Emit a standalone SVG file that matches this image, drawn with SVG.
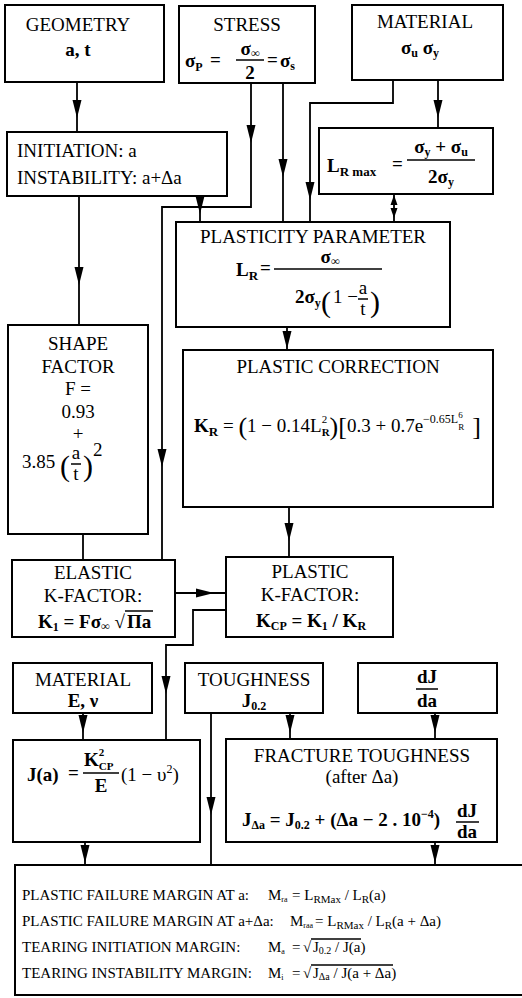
<svg xmlns="http://www.w3.org/2000/svg" xmlns:xlink="http://www.w3.org/1999/xlink" width="522" height="998" viewBox="0 0 522 998">
<style>
  .box { fill: #fff; stroke: #000; stroke-width: 2; }
  .ln { fill: none; stroke: #000; stroke-width: 1.8; }
  .bar { stroke: #000; stroke-width: 1.5; }
  .ah { fill: #000; stroke: none; }
  text { font-family: "Liberation Serif", "Times New Roman", serif; font-size: 19px; fill: #000; }
  .c { text-anchor: middle; }
  .b { font-weight: bold; }
  .s { font-size: 15px; }
  .sub { font-size: 12px; }
  .big { font-size: 30px; }
</style>
<defs>
  <path id="ah" d="M0,0 L-4.5,-18 L4.5,-18 Z"/>
  <path id="ahs" d="M0,0 L-3.5,-10 L3.5,-10 Z"/>
</defs>
<rect width="522" height="998" fill="#fff"/>

<g id="connectors">
  <g class="ln">
    <path d="M77,82 V132"/>
    <path d="M251,83 V207 H162 V560"/>
    <path d="M283,83 V222"/>
    <path d="M393,80 V103 H310 V222"/>
    <path d="M438,80 V128"/>
    <path d="M394,194 V222"/>
    <path d="M200,196 V222"/>
    <path d="M79,196 V325"/>
    <path d="M287,327 V350"/>
    <path d="M289,507 V557"/>
    <path d="M83,534 V560"/>
    <path d="M175,593 H226"/>
    <path d="M226,610 H193 V645 H166 V740"/>
    <path d="M83,713 V740"/>
    <path d="M290,713 V739"/>
    <path d="M435,713 V739"/>
    <path d="M211,713 V865"/>
    <path d="M85,842 V865"/>
    <path d="M435,842 V865"/>
  </g>
  <g class="ah">
    <use xlink:href="#ah" transform="translate(77,118)"/>
    <use xlink:href="#ah" transform="translate(251,143)"/>
    <use xlink:href="#ah" transform="translate(162,467)"/>
    <use xlink:href="#ah" transform="translate(283,177)"/>
    <use xlink:href="#ah" transform="translate(310,200)"/>
    <use xlink:href="#ah" transform="translate(438,118)"/>
    <use xlink:href="#ahs" transform="translate(394,195) rotate(180)"/>
    <use xlink:href="#ahs" transform="translate(394,218)"/>
    <use xlink:href="#ah" transform="translate(200,214)"/>
    <use xlink:href="#ah" transform="translate(79,285)"/>
    <use xlink:href="#ah" transform="translate(287,349)"/>
    <use xlink:href="#ah" transform="translate(289,541)"/>
    <use xlink:href="#ah" transform="translate(214,593) rotate(-90)"/>
    <use xlink:href="#ah" transform="translate(166,694)"/>
    <use xlink:href="#ah" transform="translate(83,733)"/>
    <use xlink:href="#ah" transform="translate(290,733)"/>
    <use xlink:href="#ah" transform="translate(435,733)"/>
    <use xlink:href="#ah" transform="translate(211,815)"/>
    <use xlink:href="#ah" transform="translate(85,863)"/>
    <use xlink:href="#ah" transform="translate(435,863)"/>
  </g>
</g>

<g id="geometry">
  <rect class="box" x="5" y="5" width="159" height="77"/>
  <text x="78" y="31" class="c">GEOMETRY</text>
  <text x="78" y="56" class="c b" font-size="17">a, t</text>
</g>

<g id="stress">
  <rect class="box" x="179" y="6" width="136" height="77"/>
  <text x="247" y="31" class="c">STRESS</text>
  <text x="185" y="67" class="b">σ<tspan class="sub" dy="4">P</tspan></text>
  <text x="210" y="66" class="b">=</text>
  <text x="250" y="55" class="c b">σ<tspan class="sub" dy="2">∞</tspan></text>
  <line class="bar" x1="236" y1="60" x2="264" y2="60"/>
  <text x="250" y="79" class="c b">2</text>
  <text x="267" y="66" class="b">=</text>
  <text x="280" y="67" class="b">σ<tspan class="sub" dy="3">s</tspan></text>
</g>

<g id="material">
  <rect class="box" x="352" y="5" width="151" height="75"/>
  <text x="425" y="28" class="c">MATERIAL</text>
  <text x="420" y="54" class="c b">σ<tspan class="sub" dy="3">u</tspan><tspan dy="-3">  σ</tspan><tspan class="sub" dy="3">y</tspan></text>
</g>

<g id="initiation">
  <rect class="box" x="7" y="132" width="220" height="64"/>
  <text x="17" y="157">INITIATION: a</text>
  <text x="17" y="184">INSTABILITY: a+Δa</text>
</g>

<g id="lrmax">
  <rect class="box" x="319" y="128" width="174" height="66"/>
  <text x="327" y="172" class="b">L<tspan font-size="13" dy="4">R max</tspan></text>
  <text x="392" y="170" class="b">=</text>
  <text x="441" y="153" class="c b">σ<tspan class="sub" dy="3">y</tspan><tspan dy="-3"> + σ</tspan><tspan class="sub" dy="3">u</tspan></text>
  <line class="bar" x1="407" y1="160" x2="475" y2="160"/>
  <text x="441" y="183" class="c b">2σ<tspan class="sub" dy="3">y</tspan></text>
</g>

<g id="plasticity">
  <rect class="box" x="176" y="222" width="274" height="105"/>
  <text x="313" y="243" class="c">PLASTICITY PARAMETER</text>
  <text x="236" y="276" class="b">L<tspan font-size="13" dy="4">R</tspan></text>
  <text x="260" y="274" class="b">=</text>
  <text x="330" y="263" class="c b">σ<tspan class="sub" dy="2">∞</tspan></text>
  <line class="bar" x1="274" y1="269" x2="382" y2="269"/>
  <text x="295" y="303" class="b">2σ<tspan class="sub" dy="4">y</tspan></text>
  <text x="321" y="312" class="big">(</text>
  <text x="333" y="303">1 −</text>
  <text x="363" y="294" class="c" font-size="15">a</text>
  <line class="bar" x1="358" y1="299" x2="368" y2="299" stroke-width="1"/>
  <text x="363" y="315" class="c" font-size="15">t</text>
  <text x="370" y="312" class="big">)</text>
</g>

<g id="plastic-correction">
  <rect class="box" x="183" y="350" width="310" height="157"/>
  <text x="338" y="373" class="c">PLASTIC CORRECTION</text>
  <text x="194" y="432"><tspan font-weight="bold">K</tspan><tspan font-weight="bold" font-size="13" dy="4">R</tspan><tspan dy="-4"> = </tspan><tspan font-size="26" dy="3">(</tspan><tspan dy="-3">1 − 0.14L</tspan><tspan font-size="11" dy="-9">2</tspan><tspan font-size="11" font-weight="bold" dx="-5.5" dy="13">R</tspan><tspan font-size="26" dy="-1">)</tspan><tspan font-size="26">[</tspan><tspan dy="-3">0.3 + 0.7e</tspan><tspan font-size="12" dy="-9">−0.65L</tspan><tspan font-size="9" dy="-5">6</tspan><tspan font-size="9" dx="-4.5" dy="12">R</tspan><tspan font-size="26" dx="8" dy="5">]</tspan></text>
</g>

<g id="shape-factor">
  <rect class="box" x="8" y="325" width="140" height="209"/>
  <text x="78" y="350" class="c">SHAPE</text>
  <text x="78" y="373" class="c">FACTOR</text>
  <text x="78" y="395" class="c">F =</text>
  <text x="78" y="418" class="c">0.93</text>
  <text x="78" y="440" class="c">+</text>
  <text x="22" y="468">3.85</text>
  <text x="60" y="476" class="big">(</text>
  <text x="76" y="459" class="c" font-size="15">a</text>
  <line class="bar" x1="71" y1="464" x2="81" y2="464" stroke-width="1"/>
  <text x="76" y="480" class="c" font-size="15">t</text>
  <text x="83" y="476" class="big">)</text>
  <text x="93" y="456" font-size="15">2</text>
</g>

<g id="elastic-k">
  <rect class="box" x="12" y="560" width="163" height="77"/>
  <text x="93" y="579" class="c">ELASTIC</text>
  <text x="93" y="602" class="c">K-FACTOR:</text>
  <text x="38" y="628" class="b">K<tspan class="sub" dy="3">1</tspan><tspan dy="-3"> = Fσ</tspan><tspan class="sub" dy="2">∞</tspan><tspan dy="-2"> √</tspan></text>
  <text x="127" y="628" class="b">Πa</text>
  <line class="bar" x1="125" y1="611" x2="153" y2="611"/>
</g>

<g id="plastic-k">
  <rect class="box" x="226" y="557" width="167" height="80"/>
  <text x="310" y="578" class="c">PLASTIC</text>
  <text x="310" y="601" class="c">K-FACTOR:</text>
  <text x="311" y="627" class="c b">K<tspan class="sub" dy="3">CP</tspan><tspan dy="-3"> = K</tspan><tspan class="sub" dy="3">1</tspan><tspan dy="-3"> / K</tspan><tspan class="sub" dy="3">R</tspan></text>
</g>

<g id="material-e">
  <rect class="box" x="13" y="663" width="139" height="50"/>
  <text x="83" y="686" class="c">MATERIAL</text>
  <text x="83" y="707" class="c b" font-size="17">E, ν</text>
</g>

<g id="toughness">
  <rect class="box" x="185" y="663" width="138" height="50"/>
  <text x="254" y="686" class="c">TOUGHNESS</text>
  <text x="254" y="707" class="c b">J<tspan class="sub" dy="3">0.2</tspan></text>
</g>

<g id="djda">
  <rect class="box" x="358" y="663" width="139" height="50"/>
  <text x="427" y="683" class="c b" font-size="17">dJ</text>
  <line class="bar" x1="416" y1="689" x2="438" y2="689"/>
  <text x="427" y="707" class="c b" font-size="17">da</text>
</g>

<g id="j-a">
  <rect class="box" x="13" y="740" width="187" height="102"/>
  <text x="27" y="781" class="b">J(a)</text>
  <text x="68" y="779" class="b">=</text>
  <text x="84" y="766" class="b">K<tspan font-size="11" dy="-10">2</tspan><tspan font-size="11" dx="-5.5" dy="14">CP</tspan></text>
  <line class="bar" x1="83" y1="773" x2="119" y2="773"/>
  <text x="101" y="792" class="c b">E</text>
  <text x="121" y="781">(1 − υ<tspan class="sub" dy="-8">2</tspan><tspan dy="8">)</tspan></text>
</g>

<g id="fracture-toughness">
  <rect class="box" x="226" y="739" width="271" height="103"/>
  <text x="362" y="762" class="c">FRACTURE TOUGHNESS</text>
  <text x="362" y="783" class="c">(after Δa)</text>
  <text x="242" y="826" class="b">J<tspan class="sub" dy="3">Δa</tspan><tspan dy="-3"> = J</tspan><tspan class="sub" dy="3">0.2</tspan><tspan dy="-3"> + (Δa − 2 . 10</tspan><tspan class="sub" dy="-8">−4</tspan><tspan dy="8">)</tspan></text>
  <text x="467" y="817" class="c b" font-size="17">dJ</text>
  <line class="bar" x1="456" y1="822" x2="479" y2="822"/>
  <text x="467" y="838" class="c b" font-size="17">da</text>
</g>

<g id="margins">
  <rect class="box" x="15" y="865" width="530" height="130"/>
  <text x="22" y="900" class="s">PLASTIC FAILURE MARGIN AT a:</text>
  <text x="22" y="926" class="s">PLASTIC FAILURE MARGIN AT a+Δa:</text>
  <text x="22" y="952" class="s">TEARING INITIATION MARGIN:</text>
  <text x="22" y="978" class="s">TEARING INSTABILITY MARGIN:</text>

  <text x="268" y="900" class="s">M<tspan font-size="8" dy="2">ra</tspan></text>
  <text x="292" y="900" class="s">= L<tspan font-size="11" dy="3">RMax</tspan><tspan dy="-3"> / L</tspan><tspan font-size="11" dy="3">R</tspan><tspan dy="-3">(a)</tspan></text>

  <text x="290" y="926" class="s">M<tspan font-size="8" dy="2">raa</tspan></text>
  <text x="315" y="926" class="s">= L<tspan font-size="11" dy="3">RMax</tspan><tspan dy="-3"> / L</tspan><tspan font-size="11" dy="3">R</tspan><tspan dy="-3">(a + Δa)</tspan></text>

  <text x="268" y="952" class="s">M<tspan font-size="8" dy="2">a</tspan></text>
  <text x="292" y="952" class="s">=</text>
  <text x="303" y="952" class="s">√</text>
  <text x="313" y="952" class="s">J<tspan font-size="10" dy="2">0.2</tspan><tspan dy="-2"> / J(a)</tspan></text>
  <line class="bar" x1="311" y1="939" x2="361" y2="939" stroke-width="1"/>

  <text x="268" y="978" class="s">M<tspan font-size="8" dy="2">i</tspan></text>
  <text x="292" y="978" class="s">=</text>
  <text x="303" y="978" class="s">√</text>
  <text x="313" y="978" class="s">J<tspan font-size="10" dy="2">Δa</tspan><tspan dy="-2"> / J(a + Δa)</tspan></text>
  <line class="bar" x1="311" y1="965" x2="393" y2="965" stroke-width="1"/>
</g>
</svg>
